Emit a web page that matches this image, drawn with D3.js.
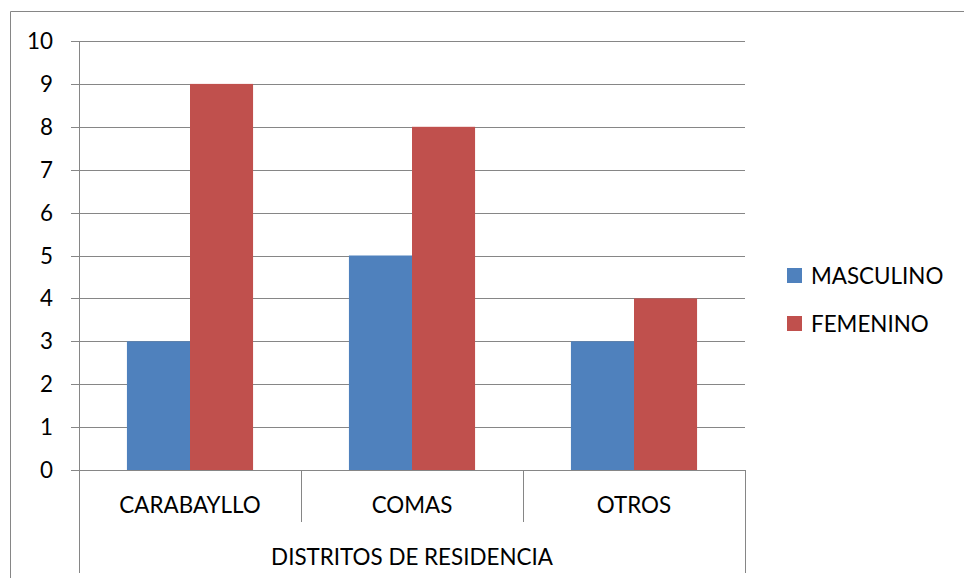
<!DOCTYPE html>
<html>
<head>
<meta charset="utf-8">
<script src="https://cdn.jsdelivr.net/npm/d3@7"></script>
<style>
  body { margin: 0; background: #fff; }
  text { font-family: Lato, "Open Sans", sans-serif; fill: #000; }
</style>
</head>
<body>
<svg width="964" height="578"></svg>
<script>
// data
let categories = ["CARABAYLLO", "COMAS", "OTROS"];
let seriesNames = ["MASCULINO", "FEMENINO"];
let masculino = [3, 5, 3];
let femenino = [9, 8, 4];
let yTicks = [0, 1, 2, 3, 4, 5, 6, 7, 8, 9, 10];
let axisTitle = "DISTRITOS DE RESIDENCIA";

let svg = d3.select("svg");
let colors = d3.scaleOrdinal().domain(seriesNames).range(["#4F81BD", "#C0504D"]);
let grid = "#868686";
let fs = "22.4px";

// outer frame (left + top visible)
svg.append("path")
  .attr("d", "M10.5,578 V11.5 H964")
  .attr("fill", "none").attr("stroke", grid).attr("stroke-width", 1);

let x = d3.scaleBand().domain(categories).range([79, 745]);
let xIn = d3.scaleBand().domain(seriesNames).range([0, x.bandwidth()]).paddingOuter(0.76).paddingInner(0);
let y = d3.scaleLinear().domain([0, 10]).range([470, 41]);

// gridlines + ticks
svg.append("g").selectAll("line").data(yTicks).join("line")
  .attr("x1", 71).attr("x2", 745)
  .attr("y1", d => Math.round(y(d)) + 0.5).attr("y2", d => Math.round(y(d)) + 0.5)
  .attr("stroke", grid);

svg.append("g").selectAll("text").data(yTicks).join("text")
  .attr("x", 53).attr("y", d => y(d))
  .attr("dy", "0.36em")
  .attr("text-anchor", "end")
  .style("font-size", fs)
  .text(d => d);

// bars
let rows = categories.map((c, i) => ({cat: c, vals: [masculino[i], femenino[i]]}));
let groups = svg.append("g").selectAll("g").data(rows).join("g")
  .attr("transform", d => "translate(" + x(d.cat) + ",0)");
groups.selectAll("rect").data(d => d.vals.map((v, j) => ({name: seriesNames[j], v: v}))).join("rect")
  .attr("x", d => xIn(d.name))
  .attr("width", xIn.bandwidth())
  .attr("y", d => y(d.v))
  .attr("height", d => y(0) - y(d.v))
  .attr("fill", d => colors(d.name));

// y axis line
svg.append("line").attr("x1", 79.5).attr("x2", 79.5).attr("y1", 41).attr("y2", 573).attr("stroke", grid);
svg.append("line").attr("x1", 745.5).attr("x2", 745.5).attr("y1", 470).attr("y2", 573).attr("stroke", grid);
// inner category separators
svg.append("g").selectAll("line").data(categories.slice(1)).join("line")
  .attr("x1", d => Math.round(x(d)) + 0.5).attr("x2", d => Math.round(x(d)) + 0.5)
  .attr("y1", 470).attr("y2", 522)
  .attr("stroke", grid);

// category labels
svg.append("g").selectAll("text").data(categories).join("text")
  .attr("x", d => x(d) + x.bandwidth() / 2)
  .attr("y", 505)
  .attr("dy", "0.36em")
  .attr("text-anchor", "middle")
  .style("font-size", fs)
  .text(d => d);

svg.append("text")
  .attr("x", (79 + 745) / 2).attr("y", 557)
  .attr("dy", "0.36em")
  .attr("text-anchor", "middle")
  .style("font-size", fs)
  .text(axisTitle);

// legend
let legend = svg.append("g").selectAll("g").data(seriesNames).join("g")
  .attr("transform", (d, i) => "translate(787," + (268 + i * 48) + ")");
legend.append("rect").attr("width", 15).attr("height", 15).attr("fill", d => colors(d));
legend.append("text").attr("x", 24).attr("y", 7.5).attr("dy", "0.36em")
  .style("font-size", fs).text(d => d);
</script>
</body>
</html>
